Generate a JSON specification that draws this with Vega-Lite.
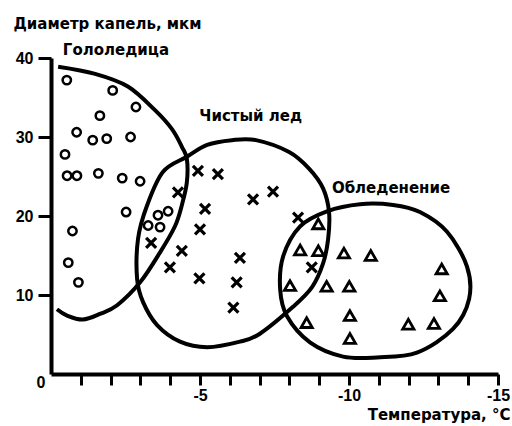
{
  "$schema": "https://vega.github.io/schema/vega-lite/v6.json",
  "width": 447,
  "height": 316,
  "autosize": {"type": "none"},
  "padding": {"left": 51, "top": 58, "right": 14, "bottom": 52},
  "background": "white",
  "config": {
    "view": {"stroke": null},
    "axis": {
      "grid": false,
      "domainColor": "black",
      "domainWidth": 4,
      "tickColor": "black",
      "tickWidth": 3,
      "labelColor": "black",
      "labelFont": "Liberation Sans",
      "labelFontSize": 16,
      "labelFontWeight": "bold",
      "titleColor": "black",
      "titleFont": "DejaVu Sans",
      "titleFontSize": 15,
      "titleFontWeight": "bold"
    }
  },
  "datasets": {
    "points": [
      {"group": "circle", "temp": -0.53, "diam": 37.2},
      {"group": "circle", "temp": -2.07, "diam": 35.9},
      {"group": "circle", "temp": -2.85, "diam": 33.8},
      {"group": "circle", "temp": -1.64, "diam": 32.7},
      {"group": "circle", "temp": -0.86, "diam": 30.6},
      {"group": "circle", "temp": -1.40, "diam": 29.6},
      {"group": "circle", "temp": -1.87, "diam": 29.8},
      {"group": "circle", "temp": -2.67, "diam": 30.0},
      {"group": "circle", "temp": -0.47, "diam": 27.8},
      {"group": "circle", "temp": -0.54, "diam": 25.1},
      {"group": "circle", "temp": -0.87, "diam": 25.1},
      {"group": "circle", "temp": -1.59, "diam": 25.4},
      {"group": "circle", "temp": -2.39, "diam": 24.8},
      {"group": "circle", "temp": -2.99, "diam": 24.4},
      {"group": "circle", "temp": -2.52, "diam": 20.5},
      {"group": "circle", "temp": -0.72, "diam": 18.1},
      {"group": "circle", "temp": -0.58, "diam": 14.1},
      {"group": "circle", "temp": -0.92, "diam": 11.6},
      {"group": "circle", "temp": -3.93, "diam": 20.6},
      {"group": "circle", "temp": -3.59, "diam": 20.1},
      {"group": "circle", "temp": -3.66, "diam": 18.6},
      {"group": "circle", "temp": -3.26, "diam": 18.8},
      {"group": "cross", "temp": -4.93, "diam": 25.7},
      {"group": "cross", "temp": -5.60, "diam": 25.3},
      {"group": "cross", "temp": -4.26, "diam": 23.0},
      {"group": "cross", "temp": -6.78, "diam": 22.1},
      {"group": "cross", "temp": -7.45, "diam": 23.1},
      {"group": "cross", "temp": -5.17, "diam": 20.9},
      {"group": "cross", "temp": -5.00, "diam": 18.3},
      {"group": "cross", "temp": -3.36, "diam": 16.6},
      {"group": "cross", "temp": -4.39, "diam": 15.6},
      {"group": "cross", "temp": -3.99, "diam": 13.5},
      {"group": "cross", "temp": -6.34, "diam": 14.7},
      {"group": "cross", "temp": -4.98, "diam": 12.1},
      {"group": "cross", "temp": -6.23, "diam": 11.6},
      {"group": "cross", "temp": -6.12, "diam": 8.4},
      {"group": "cross", "temp": -8.29, "diam": 19.8},
      {"group": "cross", "temp": -8.75, "diam": 13.5},
      {"group": "triangle", "temp": -8.97, "diam": 19.0},
      {"group": "triangle", "temp": -8.36, "diam": 15.7},
      {"group": "triangle", "temp": -8.97, "diam": 15.6},
      {"group": "triangle", "temp": -9.83, "diam": 15.3},
      {"group": "triangle", "temp": -10.73, "diam": 15.0},
      {"group": "triangle", "temp": -8.02, "diam": 11.2},
      {"group": "triangle", "temp": -9.25, "diam": 11.1},
      {"group": "triangle", "temp": -10.01, "diam": 11.1},
      {"group": "triangle", "temp": -13.11, "diam": 13.3},
      {"group": "triangle", "temp": -13.05, "diam": 9.9},
      {"group": "triangle", "temp": -10.03, "diam": 7.4},
      {"group": "triangle", "temp": -8.58, "diam": 6.5},
      {"group": "triangle", "temp": -11.99, "diam": 6.3},
      {"group": "triangle", "temp": -12.85, "diam": 6.4},
      {"group": "triangle", "temp": -10.03, "diam": 4.5}
    ],
    "curves": [
      {"curve": "glaze", "i": 1, "temp": -0.24, "diam": 38.9},
      {"curve": "glaze", "i": 2, "temp": -1.48, "diam": 38.0},
      {"curve": "glaze", "i": 3, "temp": -2.58, "diam": 36.4},
      {"curve": "glaze", "i": 4, "temp": -3.49, "diam": 33.4},
      {"curve": "glaze", "i": 5, "temp": -4.06, "diam": 31.0},
      {"curve": "glaze", "i": 6, "temp": -4.40, "diam": 28.7},
      {"curve": "glaze", "i": 7, "temp": -4.56, "diam": 27.2},
      {"curve": "glaze", "i": 8, "temp": -4.56, "diam": 24.3},
      {"curve": "glaze", "i": 9, "temp": -4.40, "diam": 21.5},
      {"curve": "glaze", "i": 10, "temp": -4.16, "diam": 18.7},
      {"curve": "glaze", "i": 11, "temp": -3.66, "diam": 15.4},
      {"curve": "glaze", "i": 12, "temp": -2.99, "diam": 11.6},
      {"curve": "glaze", "i": 13, "temp": -2.22, "diam": 8.7},
      {"curve": "glaze", "i": 14, "temp": -1.64, "diam": 7.6},
      {"curve": "glaze", "i": 15, "temp": -1.07, "diam": 6.9},
      {"curve": "glaze", "i": 16, "temp": -0.54, "diam": 7.4},
      {"curve": "glaze", "i": 17, "temp": -0.20, "diam": 8.2},
      {"curve": "clear", "i": 1, "temp": -4.56, "diam": 27.5},
      {"curve": "clear", "i": 2, "temp": -5.24, "diam": 29.0},
      {"curve": "clear", "i": 3, "temp": -6.07, "diam": 29.6},
      {"curve": "clear", "i": 4, "temp": -6.88, "diam": 29.6},
      {"curve": "clear", "i": 5, "temp": -7.99, "diam": 28.1},
      {"curve": "clear", "i": 6, "temp": -8.66, "diam": 26.0},
      {"curve": "clear", "i": 7, "temp": -9.13, "diam": 23.5},
      {"curve": "clear", "i": 8, "temp": -9.33, "diam": 20.5},
      {"curve": "clear", "i": 9, "temp": -9.30, "diam": 17.1},
      {"curve": "clear", "i": 10, "temp": -9.13, "diam": 14.0},
      {"curve": "clear", "i": 11, "temp": -8.76, "diam": 11.0},
      {"curve": "clear", "i": 12, "temp": -8.12, "diam": 8.5},
      {"curve": "clear", "i": 13, "temp": -7.01, "diam": 5.1},
      {"curve": "clear", "i": 14, "temp": -6.34, "diam": 4.1},
      {"curve": "clear", "i": 15, "temp": -5.24, "diam": 3.4},
      {"curve": "clear", "i": 16, "temp": -4.33, "diam": 4.1},
      {"curve": "clear", "i": 17, "temp": -3.56, "diam": 6.2},
      {"curve": "clear", "i": 18, "temp": -3.09, "diam": 9.1},
      {"curve": "clear", "i": 19, "temp": -2.89, "diam": 12.0},
      {"curve": "clear", "i": 20, "temp": -2.92, "diam": 17.1},
      {"curve": "clear", "i": 21, "temp": -3.22, "diam": 21.3},
      {"curve": "clear", "i": 22, "temp": -3.76, "diam": 25.6},
      {"curve": "rime", "i": 1, "temp": -9.26, "diam": 20.6},
      {"curve": "rime", "i": 2, "temp": -10.37, "diam": 21.5},
      {"curve": "rime", "i": 3, "temp": -11.48, "diam": 21.4},
      {"curve": "rime", "i": 4, "temp": -12.38, "diam": 20.5},
      {"curve": "rime", "i": 5, "temp": -13.29, "diam": 18.0},
      {"curve": "rime", "i": 6, "temp": -13.96, "diam": 13.6},
      {"curve": "rime", "i": 7, "temp": -14.03, "diam": 9.5},
      {"curve": "rime", "i": 8, "temp": -13.49, "diam": 5.7},
      {"curve": "rime", "i": 9, "temp": -12.28, "diam": 2.7},
      {"curve": "rime", "i": 10, "temp": -10.94, "diam": 2.1},
      {"curve": "rime", "i": 11, "temp": -9.80, "diam": 2.2},
      {"curve": "rime", "i": 12, "temp": -8.69, "diam": 4.0},
      {"curve": "rime", "i": 13, "temp": -7.92, "diam": 7.3},
      {"curve": "rime", "i": 14, "temp": -7.69, "diam": 10.7},
      {"curve": "rime", "i": 15, "temp": -7.79, "diam": 14.9},
      {"curve": "rime", "i": 16, "temp": -8.36, "diam": 18.7}
    ],
    "labels": [
      {"label": "Гололедица", "temp": -2.18, "diam": 41.0},
      {"label": "Чистый лед", "temp": -6.70, "diam": 32.7},
      {"label": "Обледенение", "temp": -11.41, "diam": 23.5}
    ],
    "origin": [
      {"label": "0", "temp": 0, "diam": 0}
    ]
  },
  "encoding": {
    "x": {
      "field": "temp",
      "type": "quantitative",
      "scale": {"domain": [-15, 0], "reverse": true, "nice": false, "zero": false},
      "axis": {
        "values": [-1, -2, -3, -4, -5, -6, -7, -8, -9, -10, -11, -12, -13, -14, -15],
        "tickSize": 11,
        "labelPadding": 2,
        "labelFlush": false,
        "labelOverlap": false,
        "labelExpr": "datum.value % 5 == 0 ? '' + datum.value : ''",
        "title": "Температура, °C",
        "titleAngle": 0,
        "titleAlign": "right",
        "titleBaseline": "middle",
        "titleX": 459,
        "titleY": 40
      }
    },
    "y": {
      "field": "diam",
      "type": "quantitative",
      "scale": {"domain": [0, 40], "nice": false},
      "axis": {
        "values": [10, 20, 30, 40],
        "tickSize": 13,
        "labelPadding": 5,
        "labelFlush": false,
        "title": "Диаметр капель, мкм",
        "titleAngle": 0,
        "titleAlign": "left",
        "titleBaseline": "middle",
        "titleX": -38,
        "titleY": -35
      }
    }
  },
  "layer": [
    {
      "data": {"name": "curves"},
      "transform": [{"filter": "datum.curve == 'glaze'"}],
      "mark": {"type": "line", "interpolate": "cardinal", "color": "black", "strokeWidth": 4},
      "encoding": {"order": {"field": "i", "type": "quantitative"}}
    },
    {
      "data": {"name": "curves"},
      "transform": [{"filter": "datum.curve != 'glaze'"}],
      "mark": {"type": "line", "interpolate": "cardinal-closed", "color": "black", "strokeWidth": 4},
      "encoding": {
        "detail": {"field": "curve", "type": "nominal"},
        "order": {"field": "i", "type": "quantitative"}
      }
    },
    {
      "data": {"name": "points"},
      "transform": [{"filter": "datum.group == 'circle'"}],
      "mark": {"type": "point", "shape": "circle", "filled": false, "stroke": "black", "strokeWidth": 2.5, "size": 70, "opacity": 1}
    },
    {
      "data": {"name": "points"},
      "transform": [{"filter": "datum.group == 'cross'"}],
      "mark": {"type": "point", "shape": "M-1,-1L1,1M-1,1L1,-1", "filled": false, "stroke": "black", "strokeWidth": 3.2, "size": 100, "opacity": 1}
    },
    {
      "data": {"name": "points"},
      "transform": [{"filter": "datum.group == 'triangle'"}],
      "mark": {"type": "point", "shape": "triangle-up", "filled": false, "stroke": "black", "strokeWidth": 2.8, "size": 125, "opacity": 1}
    },
    {
      "data": {"name": "labels"},
      "mark": {"type": "text", "font": "DejaVu Sans", "fontSize": 15, "fontWeight": "bold", "color": "black", "align": "center", "baseline": "middle"},
      "encoding": {"text": {"field": "label", "type": "nominal"}}
    },
    {
      "data": {"name": "origin"},
      "mark": {"type": "text", "font": "Liberation Sans", "fontSize": 16, "fontWeight": "bold", "color": "black", "align": "center", "baseline": "middle", "dx": -10, "dy": 9},
      "encoding": {"text": {"field": "label", "type": "nominal"}}
    }
  ]
}
